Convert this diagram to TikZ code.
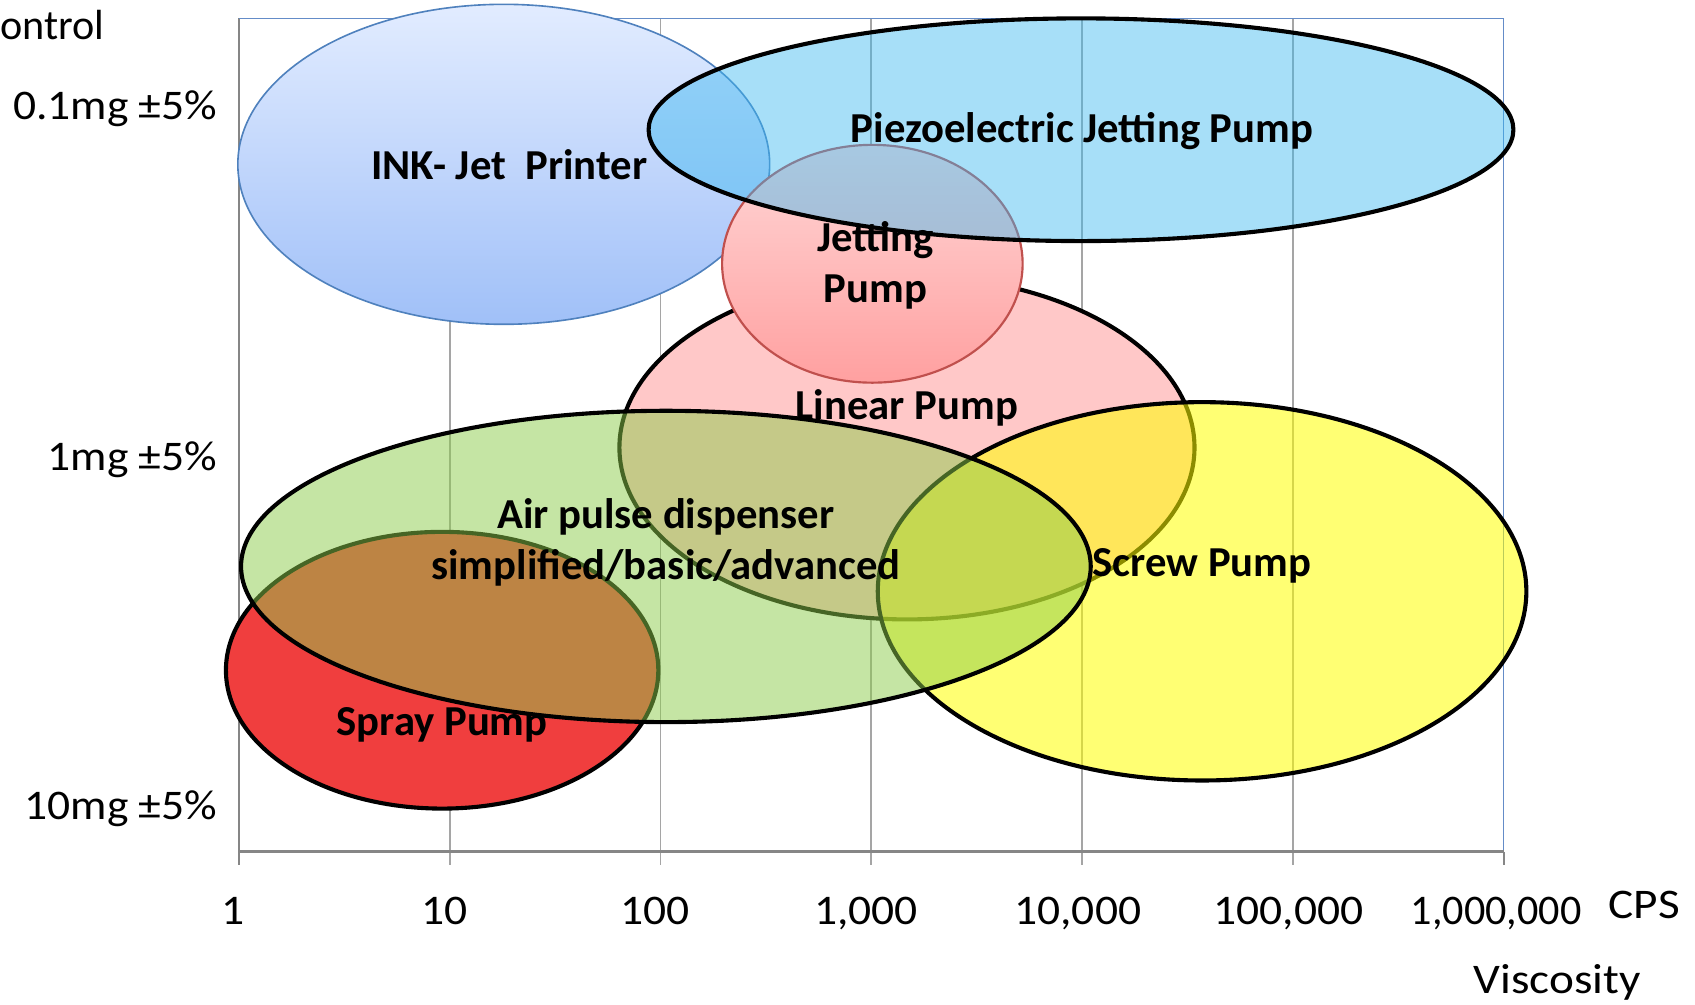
\documentclass[tikz,border=0pt]{standalone}
\usepackage{fontspec}
\setmainfont{Carlito}
\definecolor{gridgray}{RGB}{165,165,165}
\definecolor{axisgray}{RGB}{134,134,134}
\definecolor{borderblue}{RGB}{100,140,200}
\definecolor{inkline}{RGB}{79,129,189}
\definecolor{inktop}{RGB}{226,236,255}
\definecolor{inkbot}{RGB}{160,192,248}
\definecolor{piezofill}{RGB}{60,185,240}
\definecolor{linfill}{RGB}{255,200,200}
\definecolor{jettop}{RGB}{255,215,215}
\definecolor{jetbot}{RGB}{255,160,160}
\definecolor{jetline}{RGB}{192,80,77}
\definecolor{sprayfill}{RGB}{240,62,62}
\definecolor{screwfill}{RGB}{255,255,0}
\definecolor{airfill}{RGB}{140,203,74}
\newcommand{\wide}[1]{\scalebox{1.08}[1]{#1}}
\begin{document}
\begin{tikzpicture}[x=1pt,y=-1pt,
  blob/.style={draw=black, line width=3.8pt},
  lbl/.style={font=\fontsize{39.5}{47}\selectfont\bfseries, inner sep=0pt, anchor=base, align=center},
  axlbl/.style={font=\fontsize{39}{46}\selectfont, inner sep=0pt},
  grid line/.style={draw=gridgray, line width=1.5pt}]
\useasboundingbox (0,0) rectangle (1568,929);
% grid and axes
\foreach \x in {416,611,806,1001,1196} \draw[grid line] (\x,17) -- (\x,800);
\draw[axisgray, line width=2pt] (221,17) -- (221,800);
\draw[borderblue, line width=1.5pt] (221,17) -- (1391,17) -- (1391,788);
\draw[axisgray, line width=2pt] (1391,788) -- (1391,800);
\draw[axisgray, line width=3pt] (221,788) -- (1391,788);
% ellipses
\shadedraw[top color=inktop, bottom color=inkbot, draw=inkline, line width=1.5pt] (466,152) ellipse [x radius=246, y radius=148];
\filldraw[blob, fill=linfill] (839,414) ellipse [x radius=266, y radius=159];
\shadedraw[top color=jettop, bottom color=jetbot, draw=jetline, line width=2pt] (807,244) ellipse [x radius=139, y radius=110];
\filldraw[blob, fill=piezofill, fill opacity=0.45] (1000,120) ellipse [x radius=400, y radius=103];
\filldraw[blob, fill=sprayfill] (409,620) ellipse [x radius=200, y radius=128];
\filldraw[blob, fill=screwfill, fill opacity=0.55] (1112,547) ellipse [x radius=300, y radius=175];
\filldraw[blob, fill=airfill, fill opacity=0.5] (616,524) ellipse [x radius=393, y radius=144];
% ellipse labels
\node[lbl] (ink) at (471,166) {INK- Jet\ \ Printer};
\node[lbl] (piezo) at (1001,132) {Piezoelectric Jetting Pump};
\node[lbl] (jet) at (810,280) {Jetting\\Pump};
\node[lbl] (lin) at (839,388) {Linear Pump};
\node[lbl] (air) at (616,536) {Air pulse dispenser\\simplified/basic/advanced};
\node[lbl] (screw) at (1112,533) {Screw Pump};
\node[lbl] (spray) at (409,680) {Spray Pump};
% axis labels
\node[axlbl, anchor=base west] (ctl) at (0,37) {ontrol};
\node[axlbl, anchor=base east] (y1) at (201,111) {\wide{0.1mg ±5\%}};
\node[axlbl, anchor=base east] (y2) at (201,435) {\wide{1mg ±5\%}};
\node[axlbl, anchor=base east] (y3) at (201,758) {\wide{10mg ±5\%}};
\node[axlbl, anchor=base] (x1) at (216,855) {\wide{1}};
\node[axlbl, anchor=base] (x2) at (411,855) {\wide{10}};
\node[axlbl, anchor=base] (x3) at (606,855) {\wide{100}};
\node[axlbl, anchor=base] (x4) at (801,855) {\wide{1,000}};
\node[axlbl, anchor=base] (x5) at (997,855) {\wide{10,000}};
\node[axlbl, anchor=base] (x6) at (1192,855) {\wide{100,000}};
\node[axlbl, anchor=base] (x7) at (1384,855) {1,000,000};
\node[axlbl, anchor=base west] (cps) at (1488,850) {\scalebox{1.12}[1]{CPS}};
\node[axlbl, anchor=base west] (visc) at (1363,919) {\scalebox{1.12}[1]{Viscosity}};
\end{tikzpicture}
\end{document}
